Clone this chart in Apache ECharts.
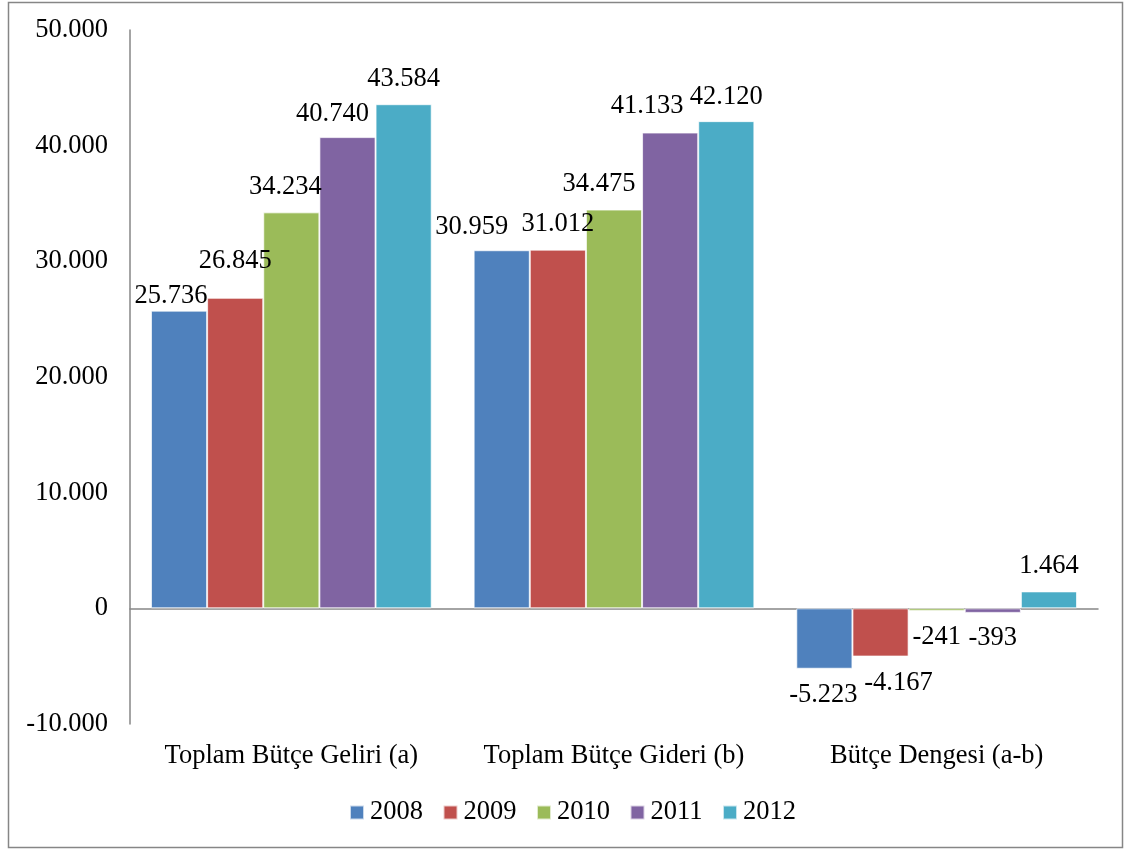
<!DOCTYPE html>
<html>
<head>
<meta charset="utf-8">
<script src="https://cdn.jsdelivr.net/npm/echarts@6/dist/echarts.min.js"></script>
<style>
  html, body { margin: 0; padding: 0; background: #fff; }
  #chart { width: 1127px; height: 849px; }
</style>
</head>
<body>
<div id="chart"></div>
<script>
// Budget categories and yearly values
const categories = ['Toplam Bütçe Geliri (a)', 'Toplam Bütçe Gideri (b)', 'Bütçe Dengesi (a-b)'];
const years = ['2008', '2009', '2010', '2011', '2012'];
const v2008 = [25736, 30959, -5223];
const v2009 = [26845, 31012, -4167];
const v2010 = [34234, 34475, -241];
const v2011 = [40740, 41133, -393];
const v2012 = [43584, 42120, 1464];
const yTicks = { min: -10000, max: 50000, interval: 10000 };

const seriesValues = [v2008, v2009, v2010, v2011, v2012];
const colors = ['#4F81BD', '#C0504D', '#9BBB59', '#8064A2', '#4BACC6'];

// Label nudges [dx, dy] per series and category, keeping crowded labels apart
const labelNudge = [
  [[-8, 11], [-30, 2], [-1, 1]],
  [[0, -11], [0, 0], [18, 1]],
  [[-6, 0], [-15, 0], [0, 0]],
  [[-15, 2], [-23, -1], [0, 0]],
  [[0, 0], [0, 1], [0, 0]]
];

const FONT = '"Liberation Serif", "Times New Roman", serif';
const FS = 26.5;

function fmt(v) {
  const s = Math.abs(v).toString().replace(/\B(?=(\d{3})+(?!\d))/g, '.');
  return (v < 0 ? '-' : '') + s;
}

const chart = echarts.init(document.getElementById('chart'));

const series = years.map((y, si) => ({
  name: y,
  type: 'bar',
  xAxisIndex: 0,
  barGap: 0,
  barCategoryGap: '13%',
  itemStyle: { color: colors[si], borderColor: 'rgba(255,255,255,0.7)', borderWidth: 1 },
  data: seriesValues[si].map((v, ci) => ({
    value: v,
    label: {
      position: v >= 0 ? 'top' : 'bottom',
      offset: labelNudge[si][ci]
    }
  })),
  label: {
    show: true,
    distance: 12,
    color: '#000',
    fontFamily: FONT,
    fontSize: FS,
    formatter: p => fmt(p.value)
  }
}));

chart.setOption({
  animation: false,
  backgroundColor: '#fff',
  textStyle: { fontFamily: FONT },
  graphic: [{
    type: 'rect',
    shape: { x: 8.5, y: 2.5, width: 1114, height: 845 },
    style: { fill: 'none', stroke: '#868686', lineWidth: 1.5 },
    silent: true
  }],
  legend: {
    bottom: 18,
    left: 344,
    itemWidth: 14,
    itemHeight: 14,
    itemGap: 19.5,
    icon: 'rect',
    textStyle: { color: '#000', fontFamily: FONT, fontSize: FS, padding: [0, 0, 0, 1] },
    data: years
  },
  grid: { left: 130, right: 29, top: 30, bottom: 125, containLabel: false },
  xAxis: [{
    type: 'category',
    data: categories,
    position: 'bottom',
    axisLine: { show: false, onZero: false },
    axisTick: { show: false },
    axisLabel: { color: '#000', fontFamily: FONT, fontSize: FS, margin: 19, interval: 0, hideOverlap: false }
  }, {
    type: 'category',
    data: categories,
    axisLine: { show: true, onZero: true, lineStyle: { color: '#868686', width: 1.5 } },
    axisTick: { show: false },
    axisLabel: { show: false }
  }],
  yAxis: {
    type: 'value',
    min: yTicks.min,
    max: yTicks.max,
    interval: yTicks.interval,
    axisLine: { show: true, lineStyle: { color: '#868686', width: 1.5 } },
    axisTick: { show: false },
    splitLine: { show: false },
    axisLabel: { color: '#000', fontFamily: FONT, fontSize: FS, margin: 22, formatter: v => fmt(v) }
  },
  series: series
});
</script>
</body>
</html>
